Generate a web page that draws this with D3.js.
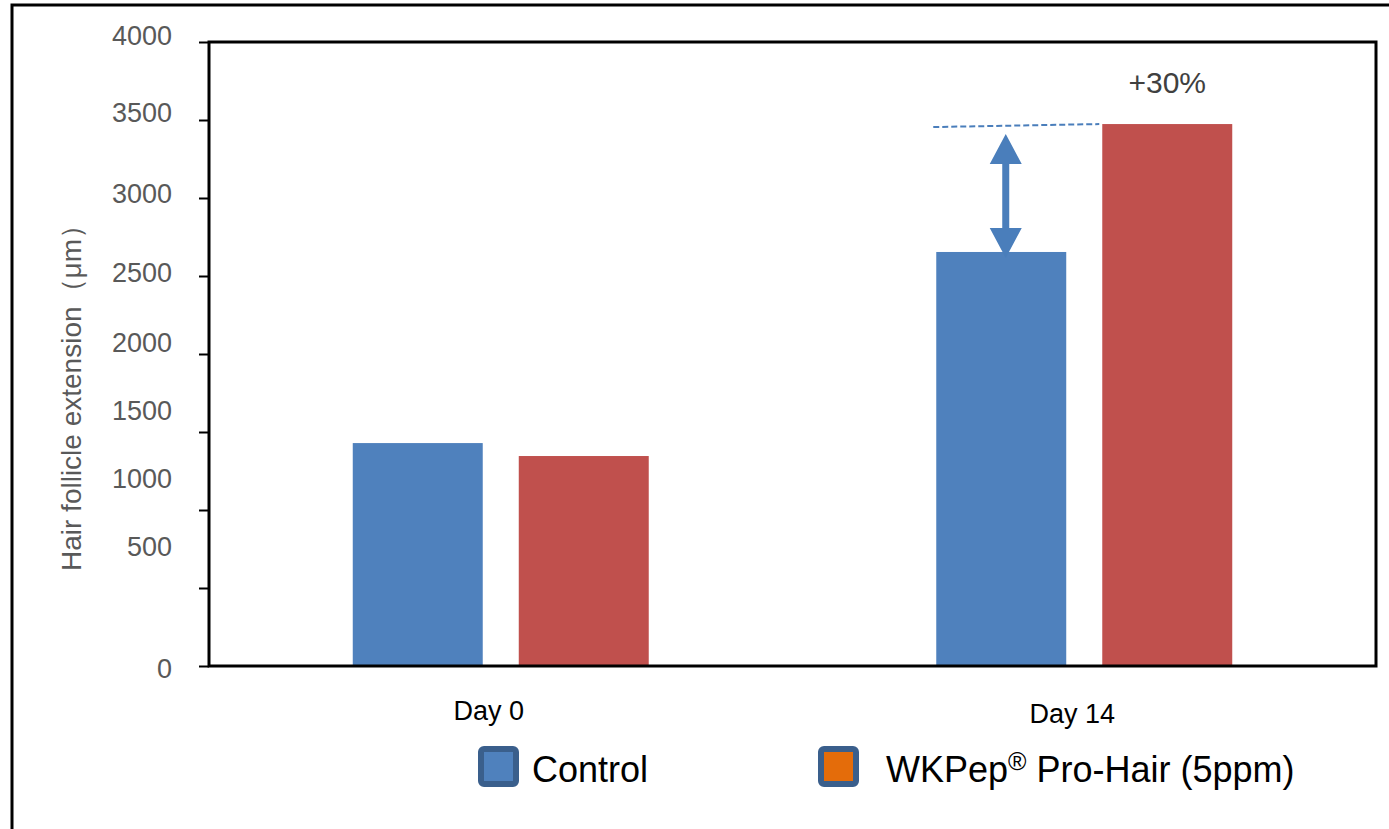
<!DOCTYPE html>
<html>
<head>
<meta charset="utf-8">
<script src="https://cdn.jsdelivr.net/npm/d3@7"></script>
<style>
  body { margin: 0; background: #fff; }
  svg { display: block; font-family: "Liberation Sans", Arial, sans-serif; }
</style>
</head>
<body>
<script>
// Chart data
var categories = ["Day 0", "Day 14"];
var seriesNames = ["Control", "WKPep\u00AE Pro-Hair (5ppm)"];
var controlValues = [1429, 2654];
var wkpepValues = [1346, 3474];
var yTicks = [0, 500, 1000, 1500, 2000, 2500, 3000, 3500, 4000];
var yTitle = "Hair follicle extension\uFF08\u03BCm\uFF09";
var increaseLabel = "+30%";

// Global variables
var width = 1389;
var height = 829;
var plot = { left: 209, right: 1376, top: 42, bottom: 666 };
var barColors = ["#4F81BD", "#C0504D"];
var swatchColors = ["#4F81BD", "#E46C0A"];
var accent = "#4A7EBB";

var svg = d3.select("body")
            .append("svg")
            .attr("width", width)
            .attr("height", height);

// Outer frame (runs off the page on right and bottom)
svg.append("path")
   .attr("d", "M12,829 L12,5 L1389,5")
   .attr("fill", "none")
   .attr("stroke", "#000")
   .attr("stroke-width", 3);

// Scales
var xScale = d3.scaleBand()
               .domain(categories)
               .range([plot.left, plot.right])
               .padding(0);

var inner = d3.scaleBand()
              .domain(seriesNames)
              .range([0, xScale.bandwidth()])
              .paddingInner(0.217)
              .paddingOuter(0.866);

var yScale = d3.scaleLinear()
               .domain([0, 4000])
               .range([plot.bottom, plot.top]);

var rows = categories.map(function(c, i) {
  return { cat: c, values: [controlValues[i], wkpepValues[i]] };
});

// Bars
var groups = svg.selectAll("g.group")
                .data(rows)
                .enter()
                .append("g")
                .attr("class", "group")
                .attr("transform", function(d) { return "translate(" + xScale(d.cat) + ",0)"; });

groups.selectAll("rect")
      .data(function(d) {
        return d.values.map(function(v, j) { return { name: seriesNames[j], value: v, j: j }; });
      })
      .enter()
      .append("rect")
      .attr("x", function(d) { return inner(d.name); })
      .attr("y", function(d) { return yScale(d.value); })
      .attr("width", inner.bandwidth())
      .attr("height", function(d) { return plot.bottom - yScale(d.value); })
      .attr("fill", function(d) { return barColors[d.j]; });

// Y axis (labels drift upward from their ticks, as in the source)
var labelShift = [2, -42, -32, -22, -12, -4, -5, -8, -7];
var yAxis = d3.axisLeft(yScale)
              .tickValues(yTicks)
              .tickSize(10)
              .tickPadding(27)
              .tickFormat(d3.format("d"));

var yG = svg.append("g")
            .attr("transform", "translate(" + plot.left + ",0)")
            .call(yAxis);
yG.select(".domain").remove();
yG.selectAll(".tick line").attr("stroke", "#000").attr("stroke-width", 2);
yG.selectAll(".tick text")
  .attr("fill", "#595959")
  .attr("font-size", "27px")
  .attr("font-family", "Liberation Sans, Arial, sans-serif")
  .attr("dy", function(d, i) { return (labelShift[i] + 9.5) + "px"; });

// X axis labels
var xAxis = d3.axisBottom(xScale).tickSize(0).tickPadding(0);
var xG = svg.append("g")
            .attr("transform", "translate(0," + plot.bottom + ")")
            .call(xAxis);
xG.select(".domain").remove();
xG.selectAll(".tick text")
  .attr("fill", "#000")
  .attr("font-size", "27px")
  .attr("font-family", "Liberation Sans, Arial, sans-serif")
  .attr("dx", "-12px")
  .attr("y", function(d, i) { return i === 0 ? 54 : 57; })
  .attr("dy", "0");

// Plot frame
svg.append("rect")
   .attr("x", plot.left)
   .attr("y", plot.top)
   .attr("width", plot.right - plot.left)
   .attr("height", plot.bottom - plot.top)
   .attr("fill", "none")
   .attr("stroke", "#000")
   .attr("stroke-width", 3);

// Y title
svg.append("text")
   .attr("transform", "translate(81,391) rotate(-90)")
   .attr("text-anchor", "middle")
   .attr("fill", "#595959")
   .attr("font-size", "28px")
   .text(yTitle);

// Annotation: dashed reference line + double arrow + label
var ctrlX = xScale(categories[1]) + inner(seriesNames[0]);
var wkX = xScale(categories[1]) + inner(seriesNames[1]);
var topY = yScale(wkpepValues[1]);
var ctrlY = yScale(controlValues[1]);

svg.append("line")
   .attr("x1", ctrlX - 3)
   .attr("y1", topY + 3)
   .attr("x2", wkX - 3)
   .attr("y2", topY)
   .attr("stroke", accent)
   .attr("stroke-width", 2)
   .attr("stroke-dasharray", "6,3");

var ax = ctrlX + inner.bandwidth() / 2 + 4.5;
var tipTop = topY + 10;
var tipBot = ctrlY + 6;
var headH = 30, headW = 32, shaftW = 7;

svg.append("path")
   .attr("d",
     "M" + ax + "," + tipTop +
     " L" + (ax + headW / 2) + "," + (tipTop + headH) +
     " L" + (ax + shaftW / 2) + "," + (tipTop + headH) +
     " L" + (ax + shaftW / 2) + "," + (tipBot - headH) +
     " L" + (ax + headW / 2) + "," + (tipBot - headH) +
     " L" + ax + "," + tipBot +
     " L" + (ax - headW / 2) + "," + (tipBot - headH) +
     " L" + (ax - shaftW / 2) + "," + (tipBot - headH) +
     " L" + (ax - shaftW / 2) + "," + (tipTop + headH) +
     " L" + (ax - headW / 2) + "," + (tipTop + headH) + " Z")
   .attr("fill", accent);

svg.append("text")
   .attr("x", wkX + inner.bandwidth() / 2)
   .attr("y", 93)
   .attr("text-anchor", "middle")
   .attr("fill", "#404040")
   .attr("font-size", "30px")
   .text(increaseLabel);

// Legend
var legendX = [478, 818];
var legend = svg.selectAll("g.legend")
                .data(seriesNames)
                .enter()
                .append("g")
                .attr("class", "legend")
                .attr("transform", function(d, i) { return "translate(" + legendX[i] + ",746)"; });

legend.append("rect")
      .attr("x", 3)
      .attr("y", 3)
      .attr("width", 35)
      .attr("height", 35)
      .attr("rx", 3)
      .attr("fill", function(d, i) { return swatchColors[i]; })
      .attr("stroke", "#3A5F8C")
      .attr("stroke-width", 6);

legend.append("text")
      .attr("x", function(d, i) { return i === 0 ? 54 : 68; })
      .attr("y", 36)
      .attr("fill", "#000")
      .attr("font-size", "36px")
      .each(function(d) {
        var t = d3.select(this);
        var parts = d.split("\u00AE");
        t.append("tspan").text(parts[0]);
        if (parts.length > 1) {
          t.append("tspan").attr("font-size", "25px").attr("dy", "-12").text("\u00AE");
          t.append("tspan").attr("dy", "12").text(parts[1]);
        }
      });
</script>
</body>
</html>
